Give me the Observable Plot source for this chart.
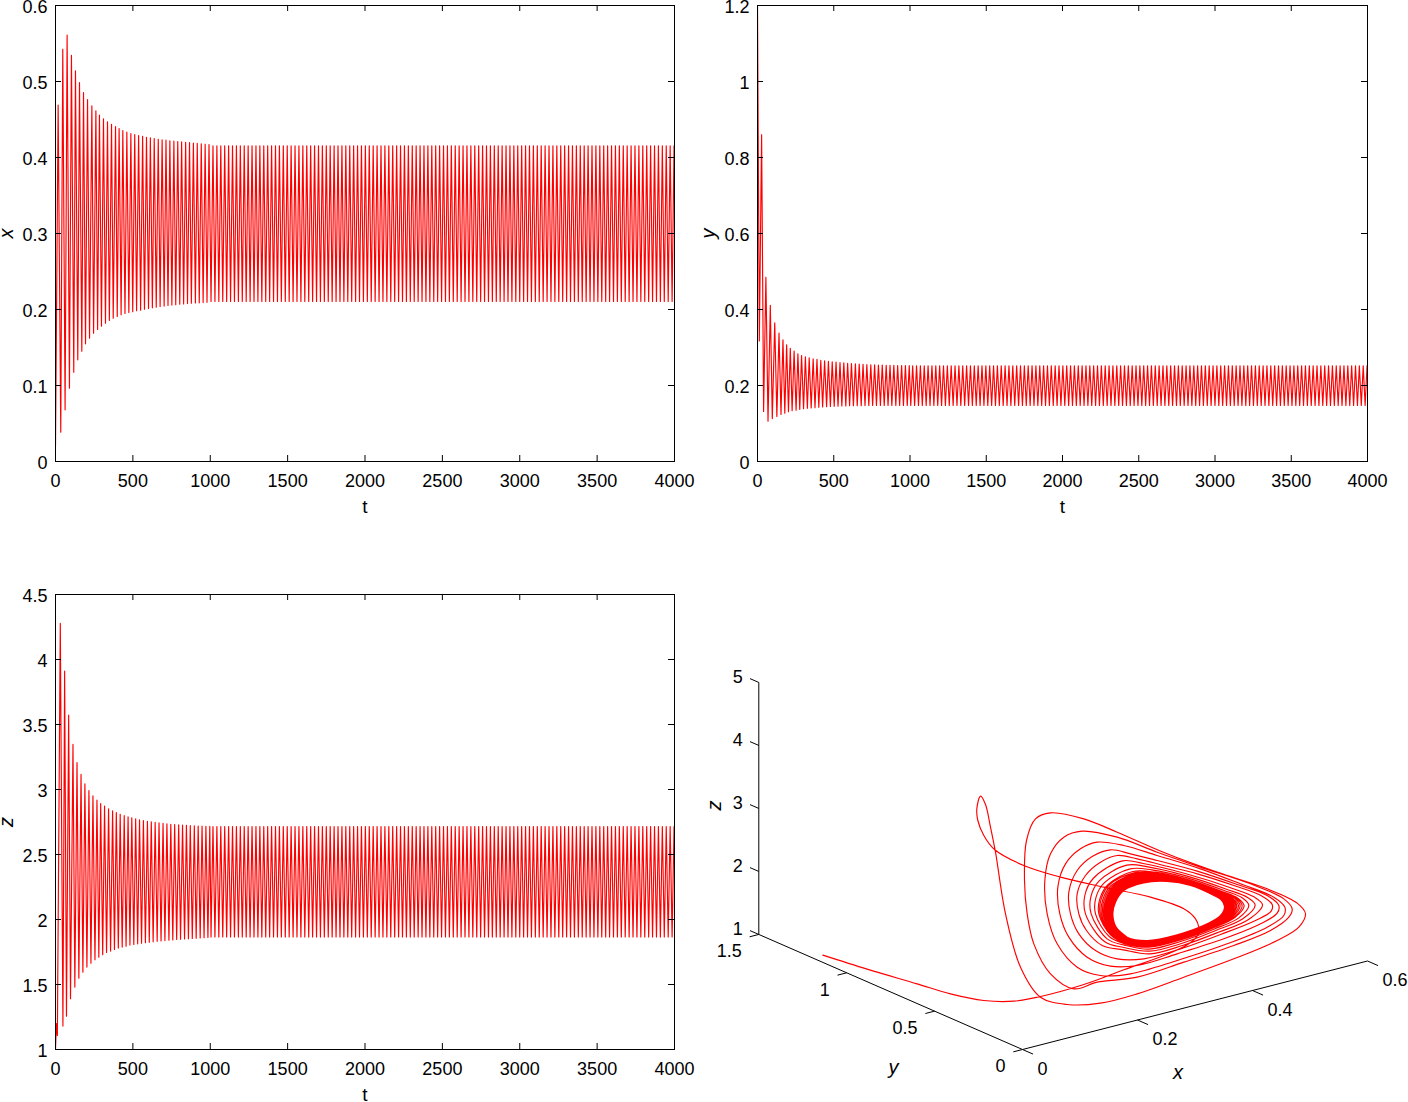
<!DOCTYPE html>
<html>
<head>
<meta charset="utf-8">
<script src="https://cdn.jsdelivr.net/npm/d3@7"></script>
<script src="https://cdn.jsdelivr.net/npm/@observablehq/plot@0.6"></script>
<style>
html,body{margin:0;padding:0;background:#fff;overflow:hidden}
#page{position:relative;width:1408px;height:1102px}
#page>svg,#page>figure{position:absolute;margin:0}
</style>
</head>
<body>
<div id="page"></div>
<script>
// ---------- tick labels ----------
const tTicks = [0,500,1000,1500,2000,2500,3000,3500,4000];
const xTicks = [0,0.1,0.2,0.3,0.4,0.5,0.6];
const yTicks = [0,0.2,0.4,0.6,0.8,1,1.2];
const zTicks = [1,1.5,2,2.5,3,3.5,4,4.5];
const boxXTicks = [0,0.2,0.4,0.6];
const boxYTicks = [0,0.5,1,1.5];
const boxZTicks = [1,2,3,4,5];

// ---------- turning points of the transient, read per panel ----------
const xTurnT = [0,17,34,47,62,75,90,103,118,129,144,155,170,181,194,207,220,235,246,261,272,284,297,310,323,336,348,362,373,388,399,411,424,435,449,461,474,487,499,512,524,537,550,563,575,588,601,613,626,638,651,664,676,689,702,714,727,739,752,765,777,790,803,815,828,841,853,866,878,891,904,916,929,942,954,967,979,992];
const xTurnV = [0.02,0.469,0.0386,0.5425,0.068,0.561,0.0965,0.5346,0.1175,0.514,0.1338,0.4987,0.1451,0.4855,0.1548,0.4763,0.1623,0.468,0.1688,0.4614,0.1737,0.4557,0.178,0.451,0.182,0.4468,0.1855,0.4438,0.1886,0.4408,0.1908,0.438,0.193,0.4355,0.1947,0.4333,0.196,0.4315,0.197,0.4302,0.1983,0.4289,0.1991,0.428,0.2004,0.4267,0.2013,0.4258,0.2022,0.4249,0.203,0.424,0.2038,0.4232,0.2045,0.4228,0.2052,0.4219,0.2058,0.4215,0.2064,0.421,0.2069,0.4205,0.2074,0.42,0.2078,0.4195,0.2082,0.419,0.2085,0.4185,0.2088,0.418,0.2091,0.4175,0.2094,0.417];

const yTurnT = [0,12,27,40,55,69,84,97,113,127,141,154,167,179,191,203,215,227,240,253,265,277,289,302,314,327,339,352,365,377,390,402,415,427,440,453,465,478,490,503,515,528,541,553,566,579,591,604,616,629,642,654,667,680,692,705,717,730,743,755,768,780,793,806,818,831,844,856,869,881,894,907,919,932,945,957,970,982,995];
const yTurnV = [1.2,0.317,0.86,0.1317,0.485,0.106,0.411,0.113,0.365,0.1185,0.338,0.1238,0.3205,0.1273,0.307,0.131,0.2977,0.1335,0.2906,0.135,0.2836,0.137,0.279,0.139,0.2757,0.14,0.273,0.141,0.2704,0.1417,0.2687,0.1426,0.266,0.1434,0.265,0.1441,0.2634,0.1447,0.2626,0.1452,0.2615,0.1456,0.2605,0.146,0.2595,0.1463,0.2585,0.1466,0.2578,0.1468,0.257,0.147,0.2563,0.1471,0.2557,0.1472,0.2552,0.1473,0.2547,0.1474,0.2543,0.1474,0.254,0.1475,0.2537,0.1475,0.2534,0.1475,0.2531,0.1475,0.2529,0.1475,0.2527,0.1475,0.2526,0.1475,0.2525,0.1475,0.2522];

const zTurnT = [0,6,12,31,48,59,71,85,97,113,125,139,151,165,177,190,203,216,229,242,255,268,280,292,305,317,330,343,356,369,381,393,406,418,431,444,456,469,481,493,506,518,531,543,556,568,581,594,606,619,631,644,657,669,682,695,707,720,733,745,758,770,783,796,808,821,834,846,859,871,884,897,909,922,935,947,960,972,985,997];
const zTurnV = [1,1.2,1.108,4.278,1.18,3.911,1.256,3.572,1.39,3.347,1.48,3.208,1.549,3.116,1.595,3.044,1.634,2.992,1.664,2.951,1.69,2.918,1.71,2.892,1.729,2.872,1.747,2.851,1.757,2.836,1.77,2.823,1.78,2.81,1.788,2.8,1.795,2.79,1.803,2.782,1.808,2.774,1.813,2.767,1.817,2.761,1.821,2.756,1.825,2.751,1.828,2.747,1.832,2.743,1.835,2.739,1.838,2.736,1.841,2.733,1.843,2.73,1.846,2.728,1.848,2.726,1.85,2.724,1.852,2.722,1.854,2.72,1.856,2.719,1.858,2.718,1.86,2.717,1.862,2.716];

// ---------- steady oscillation: turning times after the transient and its two levels ----------
const steadyTurnT = [
1005,1017.6,1030.3,1042.9,1055.5,1068.1,1080.8,1093.4,1106,1118.6,1131.3,1143.9,1156.5,1169.1,1181.8,1194.4,
1207,1219.6,1232.3,1244.9,1257.5,1270.1,1282.8,1295.4,1308,1320.6,1333.3,1345.9,1358.5,1371.1,1383.8,1396.4,
1409,1421.6,1434.3,1446.9,1459.5,1472.1,1484.8,1497.4,1510,1522.6,1535.3,1547.9,1560.5,1573.1,1585.8,1598.4,
1611,1623.6,1636.3,1648.9,1661.5,1674.1,1686.8,1699.4,1712,1724.6,1737.3,1749.9,1762.5,1775.1,1787.8,1800.4,
1813,1825.6,1838.3,1850.9,1863.5,1876.1,1888.8,1901.4,1914,1926.6,1939.3,1951.9,1964.5,1977.1,1989.8,2002.4,
2015,2027.6,2040.3,2052.9,2065.5,2078.1,2090.8,2103.4,2116,2128.6,2141.3,2153.9,2166.5,2179.1,2191.8,2204.4,
2217,2229.6,2242.3,2254.9,2267.5,2280.1,2292.8,2305.4,2318,2330.6,2343.3,2355.9,2368.5,2381.1,2393.8,2406.4,
2419,2431.6,2444.3,2456.9,2469.5,2482.1,2494.8,2507.4,2520,2532.6,2545.3,2557.9,2570.5,2583.1,2595.8,2608.4,
2621,2633.6,2646.3,2658.9,2671.5,2684.1,2696.8,2709.4,2722,2734.6,2747.3,2759.9,2772.5,2785.1,2797.8,2810.4,
2823,2835.6,2848.3,2860.9,2873.5,2886.1,2898.8,2911.4,2924,2936.6,2949.3,2961.9,2974.5,2987.1,2999.8,3012.4,
3025,3037.6,3050.3,3062.9,3075.5,3088.1,3100.8,3113.4,3126,3138.6,3151.3,3163.9,3176.5,3189.1,3201.8,3214.4,
3227,3239.6,3252.3,3264.9,3277.5,3290.1,3302.8,3315.4,3328,3340.6,3353.3,3365.9,3378.5,3391.1,3403.8,3416.4,
3429,3441.6,3454.3,3466.9,3479.5,3492.1,3504.8,3517.4,3530,3542.6,3555.3,3567.9,3580.5,3593.1,3605.8,3618.4,
3631,3643.6,3656.3,3668.9,3681.5,3694.1,3706.8,3719.4,3732,3744.6,3757.3,3769.9,3782.5,3795.1,3807.8,3820.4,
3833,3845.6,3858.3,3870.9,3883.5,3896.1,3908.8,3921.4,3934,3946.6,3959.3,3971.9,3984.5,3997.1,4009.8,4022.4];
const xSteady = [0.2105,0.4155];
const ySteady = [0.1475,0.252];
const zSteady = [1.865,2.715];

// ---------- phase portrait: trajectory as read in the projected plane of the 3-D box ----------
const approachPath = [[-383,524],[-250,566],[-100,610],[0,640],[100,660],[190,662],[270,648],[400,612],[520,568],[640,525],[715,490],[745,458],[745,440],[735,415],[700,385],[600,350],[460,320],[330,290],[220,255],[132,207],[100,165],[82,120],[79,85],[90,47],[105,72],[120,140],[135,215],[165,400],[210,560],[270,650]];
const outerLoops = [
[350,672],[450,668],[560,640],[700,590],[850,535],[980,480],[1045,440],[1065,400],[1040,368],[950,325],[800,275],[650,220],[500,155],[400,115],[300,97],[255,115],[228,180],[222,300],[230,400],[250,490],[300,580],[370,625],
[440,605],[560,590],[700,545],[850,495],[960,450],[1015,410],[1025,385],[1000,355],[900,310],[750,260],[620,215],[500,170],[395,152],[340,170],[300,220],[283,300],[290,400],[320,490],[380,560],[450,585],
[540,580],[680,540],[830,490],[950,440],[1000,405],[1003,380],[970,350],[870,310],[750,265],[620,225],[520,195],[440,185],[390,205],[345,250],[322,320],[328,400],[355,470],[410,530],[480,557],
[560,555],[680,520],[820,475],[930,430],[980,398],[985,375],[950,345],[860,312],[740,272],[620,240],[540,220],[480,208],[425,228],[380,270],[355,335],[360,400],[385,460],[435,510],[500,535],
[580,535],[690,505],[810,462],[915,420],[962,392],[965,372],[935,347],[850,315],[740,280],[640,255],[560,235],[500,225],[450,245],[405,285],[380,340],[385,400],[408,450],[455,495]];
const denseLoops = [
[518,508],[598,520],[696,495],[802,456],[894,417],[936,373],[910,349],[838,321],[704,279],[578,249],[516,241],[428,294],[403,345],[405,400],[463,484],
[520,501],[596,512],[693,489],[796,450],[877,415],[914,374],[891,351],[828,326],[707,286],[592,259],[529,254],[446,301],[421,349],[422,400],[470,475],
[522,494],[595,506],[690,483],[790,446],[864,413],[895,375],[875,352],[821,330],[710,292],[604,268],[539,265],[461,307],[436,352],[435,400],[476,468],
[524,490],[594,500],[688,479],[786,443],[853,411],[881,376],[862,353],[815,333],[712,297],[613,275],[547,273],[473,312],[448,355],[445,400],[480,463],
[524,488],[594,499],[687,478],[785,442],[849,411],[875,376],[858,354],[812,334],[713,298],[617,278],[550,277],[477,313],[452,356],[449,400],[481,460],
[525,486],[593,496],[687,476],[783,441],[845,410],[869,376],[853,354],[810,335],[713,300],[620,281],[554,280],[482,315],[457,357],[453,400],[483,458],
[526,484],[593,495],[686,475],[782,439],[841,409],[864,376],[848,355],[808,336],[714,302],[623,283],[556,283],[486,317],[461,358],[457,400],[485,456],
[526,482],[593,493],[685,473],[780,438],[837,409],[859,376],[844,355],[806,337],[715,303],[627,285],[559,286],[490,318],[465,359],[460,400],[486,454],
[526,481],[592,492],[685,472],[779,438],[835,409],[856,377],[841,355],[804,338],[715,304],[629,287],[561,288],[493,319],[468,359],[463,400],[487,453],
[527,480],[592,490],[684,471],[778,437],[832,408],[852,377],[838,356],[803,339],[716,306],[631,289],[563,290],[496,321],[471,360],[466,400],[488,452],
[527,479],[592,490],[684,471],[778,436],[830,408],[849,377],[835,356],[801,339],[716,306],[633,290],[565,291],[498,321],[473,360],[468,400],[489,450],
[527,478],[592,489],[683,470],[777,435],[828,408],[846,377],[833,356],[800,340],[717,307],[635,291],[566,293],[500,322],[475,361],[470,400],[490,449],
[528,477],[592,488],[683,469],[776,435],[826,407],[843,377],[830,356],[799,341],[717,308],[637,293],[568,295],[503,323],[478,361],[472,400],[491,448],
[528,476],[591,487],[683,468],[775,434],[824,407],[841,377],[829,357],[798,341],[717,309],[638,294],[569,296],[504,324],[479,362],[473,400],[491,447],
[528,475],[591,486],[682,467],[774,434],[822,407],[838,377],[826,357],[797,342],[718,310],[640,296],[571,298],[507,325],[482,362],[476,400],[492,446],
[529,474],[591,484],[682,467],[774,433],[819,406],[835,377],[823,357],[795,342],[718,311],[642,297],[573,300],[510,326],[485,363],[478,400],[493,445],
[529,473],[591,484],[681,466],[773,432],[817,406],[832,378],[821,357],[794,343],[719,312],[644,298],[574,301],[512,327],[487,363],[480,400],[494,444],
[529,473],[591,483],[681,465],[772,432],[816,406],[830,378],[819,357],[793,343],[719,312],[645,299],[576,302],[514,327],[489,364],[481,400],[495,443],
[529,472],[590,482],[681,465],[772,431],[814,406],[828,378],[817,358],[793,344],[719,313],[646,300],[577,304],[515,328],[490,364],[483,400],[495,442],
[530,471],[590,482],[681,464],[771,431],[813,405],[826,378],[816,358],[792,344],[719,314],[647,301],[578,305],[517,329],[492,364],[484,400],[496,442],
[530,471],[590,481],[680,464],[771,431],[812,405],[825,378],[814,358],[791,344],[720,314],[648,302],[578,305],[518,329],[493,365],[485,400],[496,441],
[530,471],[590,481],[680,463],[770,430],[811,405],[824,378],[813,358],[791,345],[720,314],[649,302],[579,306],[519,329],[494,365],[486,400],[497,441],
[530,470],[590,480],[680,463],[770,430],[810,405],[822,378],[812,358],[790,345],[720,315],[650,303],[580,307],[520,330],[495,365],[487,400],[497,440],
[530,470]];

// ---------- shared look ----------
const FONT = "'Liberation Sans', Arial, Helvetica, sans-serif";
const RED = "#ff0000";
const INK = "#000";
const TICK_FONT = 18;
const NAME_FONT = 20;
const page = document.getElementById("page");

function series(turnT, turnV, steady) {
  const head = turnT.map((t, i) => ({t, v: turnV[i]}));
  const tail = steadyTurnT.map((t, i) => ({t, v: steady[i % 2]}));
  return head.concat(tail);
}

function timePanel({left, top, width, height, mL, mR, mT, mB, yDomain, yTickVals, data, name, nameDx}) {
  const innerW = width - mL - mR;
  const innerH = height - mT - mB;
  const fmt = d => String(d);
  const plot = Plot.plot({
    width, height,
    marginLeft: mL, marginRight: mR, marginTop: mT, marginBottom: mB,
    style: {fontFamily: FONT, fontSize: TICK_FONT + "px", background: "transparent", color: INK, overflow: "visible"},
    x: {domain: [0, 4000], axis: null},
    y: {domain: yDomain, axis: null},
    marks: [
      Plot.line(data, {x: "t", y: "v", stroke: RED, strokeWidth: 1.15, clip: true}),
      Plot.frame({stroke: INK, strokeWidth: 1}),
      Plot.tickX(tTicks, {x: d => d, stroke: INK, insetTop: innerH - 6}),
      Plot.tickX(tTicks, {x: d => d, stroke: INK, insetBottom: innerH - 6}),
      Plot.tickY(yTickVals, {y: d => d, stroke: INK, insetRight: innerW - 6}),
      Plot.tickY(yTickVals, {y: d => d, stroke: INK, insetLeft: innerW - 6}),
      Plot.axisX(tTicks, {anchor: "bottom", tickSize: 0, tickPadding: 13, label: null, tickFormat: fmt, fontSize: TICK_FONT, fill: INK}),
      Plot.axisY(yTickVals, {anchor: "left", tickSize: 0, tickPadding: 8, label: null, tickFormat: fmt, fontSize: TICK_FONT, fill: INK, dy: 1.5}),
      Plot.text(["t"], {frameAnchor: "bottom", lineAnchor: "middle", dy: 45, fontSize: 19, fill: INK}),
      Plot.text([name], {frameAnchor: "left", textAnchor: "middle", lineAnchor: "middle", rotate: -90, dx: nameDx, fontSize: NAME_FONT, fontStyle: "italic", fill: INK})
    ]
  });
  plot.style.left = left + "px";
  plot.style.top = top + "px";
  page.appendChild(plot);
}

timePanel({left: 0, top: 0, width: 700, height: 530, mL: 55, mR: 26, mT: 5, mB: 69, nameDx: -49,
  yDomain: [0, 0.6], yTickVals: xTicks, data: series(xTurnT, xTurnV, xSteady), name: "x"});
timePanel({left: 700, top: 0, width: 708, height: 530, mL: 57, mR: 41, mT: 5, mB: 69, nameDx: -49,
  yDomain: [0, 1.2], yTickVals: yTicks, data: series(yTurnT, yTurnV, ySteady), name: "y"});
timePanel({left: 0, top: 560, width: 700, height: 542, mL: 55, mR: 26, mT: 34, mB: 53, nameDx: -49,
  yDomain: [1, 4.5], yTickVals: zTicks, data: series(zTurnT, zTurnV, zSteady), name: "z"});

// ---------- 3-D panel ----------
const project = (x, y, z) => ({
  u: 216 + 1725 * x - 527.4 * y,
  v: 807 - 442.5 * x - 230.1 * y - 189 * (z - 1)
});
const seg = (a, b) => ({x1: a.u, y1: a.v, x2: b.u, y2: b.v});
const axes3d = [
  seg(project(0, 0, 1), project(0.6, 0, 1)),
  seg(project(0, 0, 1), project(0, 1.5, 1)),
  seg(project(0, 1.5, 1), project(0, 1.5, 5))
];
const ticks3d = [
  ...boxXTicks.map(x => seg(project(x, 0, 1), project(x, -0.06, 1))),
  ...boxYTicks.map(y => seg(project(0, y, 1), project(-0.016, y, 1))),
  ...boxZTicks.map(z => seg(project(0, 1.5, z), project(0, 1.55, z)))
];
const orbit = [...approachPath, ...outerLoops, ...denseLoops].map(([u, v]) => ({u, v}));
const labelMark = (vals, pos, opts) => Plot.text(vals, {
  x: d => pos(d).u, y: d => pos(d).v, text: d => String(d), fontSize: TICK_FONT, fill: INK, lineAnchor: "middle", ...opts});

const portrait = Plot.plot({
  width: 708, height: 542,
  marginLeft: 0, marginRight: 0, marginTop: 0, marginBottom: 0,
  style: {fontFamily: FONT, fontSize: TICK_FONT + "px", background: "transparent", color: INK},
  x: {domain: [-750, 1374], range: [0, 708], axis: null},
  y: {domain: [-660, 966], range: [0, 542], axis: null},
  marks: [
    Plot.link(axes3d, {x1: "x1", y1: "y1", x2: "x2", y2: "y2", stroke: INK, strokeWidth: 1}),
    Plot.link(ticks3d, {x1: "x1", y1: "y1", x2: "x2", y2: "y2", stroke: INK, strokeWidth: 1}),
    Plot.line(orbit, {x: "u", y: "v", stroke: RED, strokeWidth: 1.15, curve: "catmull-rom"}),
    labelMark(boxXTicks, d => project(d, 0, 1), {textAnchor: "start", dx: 15, dy: 19.5}),
    labelMark(boxYTicks, d => project(0, d, 1), {textAnchor: "end", dx: -17, dy: 17}),
    labelMark(boxZTicks, d => project(0, 1.5, d), {textAnchor: "end", dx: -16, dy: -5}),
    Plot.text(["x"], {x: () => project(0.34, 0, 1).u, y: () => project(0.34, 0, 1).v, dx: -40, dy: 73, fontSize: NAME_FONT, fontStyle: "italic", fill: INK, lineAnchor: "middle"}),
    Plot.text(["y"], {x: () => project(0, 0.5, 1).u, y: () => project(0, 0.5, 1).v, dx: -41, dy: 56, fontSize: NAME_FONT, fontStyle: "italic", fill: INK, lineAnchor: "middle"}),
    Plot.text(["z"], {x: () => project(0, 1.5, 3).u, y: () => project(0, 1.5, 3).v, dx: -44, dy: -3, rotate: -90, fontSize: NAME_FONT, fontStyle: "italic", fill: INK, lineAnchor: "middle"})
  ]
});
portrait.style.left = "700px";
portrait.style.top = "560px";
page.appendChild(portrait);
</script>
</body>
</html>
